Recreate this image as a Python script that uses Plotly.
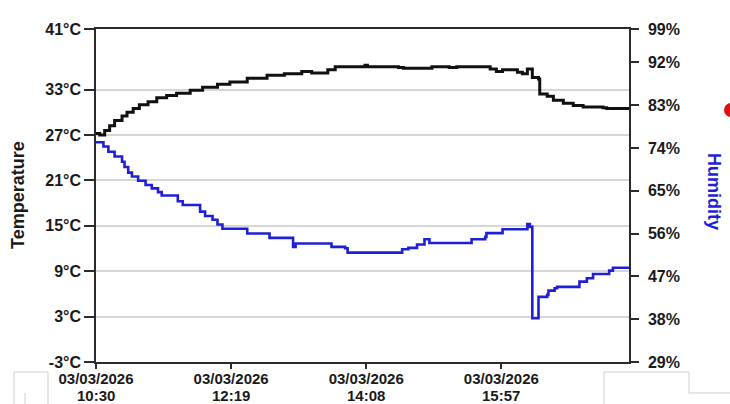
import plotly.graph_objects as go

DAY = "2026-03-03 "

# Temperature log (°C), step readings
temp_times = ["10:30", "10:33", "10:37", "10:41", "10:45", "10:51", "10:55", "11:00",
              "11:05", "11:12", "11:19", "11:27", "11:35", "11:46", "11:56", "12:08",
              "12:18", "12:32", "12:48", "13:02", "13:16", "13:24", "13:37", "13:43",
              "14:07", "14:09", "14:34", "14:38", "15:01", "15:15", "15:21", "15:48",
              "15:53", "15:58", "16:10", "16:14", "16:18", "16:22", "16:27", "16:28",
              "16:34", "16:39", "16:47", "16:55", "17:03", "17:19", "17:22", "17:40"]
temp_values = [27.2, 27.0, 27.6, 28.2, 28.9, 29.5, 30.0, 30.5,
               31.0, 31.4, 31.9, 32.2, 32.5, 32.9, 33.3, 33.7,
               34.0, 34.5, 34.9, 35.1, 35.4, 35.2, 35.6, 36.0,
               36.2, 36.0, 35.9, 35.8, 36.0, 35.9, 36.0, 35.7,
               35.4, 35.6, 35.3, 35.1, 35.7, 34.6, 34.4, 32.4,
               32.1, 31.6, 31.2, 30.9, 30.7, 30.6, 30.5, 30.5]

# Relative humidity log (%), step readings
hum_times = ["10:30", "10:36", "10:40", "10:45", "10:51", "10:53", "10:56", "10:59",
             "11:04", "11:10", "11:15", "11:20", "11:23", "11:36", "11:40", "11:54",
             "11:58", "12:04", "12:08", "12:12", "12:32", "12:50", "13:09", "13:11",
             "13:40", "13:51", "13:53", "14:37", "14:42", "14:49", "14:55", "14:59",
             "15:33", "15:44", "15:45", "15:58", "16:18", "16:20", "16:22", "16:27",
             "16:34", "16:35", "16:40", "16:42", "17:00", "17:06", "17:11", "17:24",
             "17:27", "17:40"]
hum_values = [75.2, 74.3, 73.2, 72.2, 71.1, 70.0, 68.8, 68.0,
              67.1, 66.2, 65.5, 64.7, 64.0, 62.8, 62.0, 60.6,
              59.7, 58.9, 57.9, 57.0, 56.0, 55.1, 53.2, 53.9,
              53.2, 52.9, 52.0, 52.7, 53.0, 53.7, 54.8, 54.0,
              54.8, 55.3, 56.1, 56.9, 58.0, 57.4, 38.2, 42.7,
              43.1, 44.0, 44.5, 44.8, 45.9, 46.6, 47.5, 48.2,
              48.8, 48.8]

x_tick_times = ["10:30", "12:19", "14:08", "15:57"]
x_tick_date = "03/03/2026"
temp_ticks = [-3, 3, 9, 15, 21, 27, 33, 41]
hum_ticks = [29, 38, 47, 56, 65, 74, 83, 92, 99]

FONT = "Liberation Sans"
AXIS = "#2b2b2b"
TEXT = "#1a1a1a"

fig = go.Figure()
fig.add_trace(go.Scatter(
    x=[DAY + t for t in temp_times], y=temp_values, mode="lines",
    line=dict(color="#111111", width=3, shape="hv"), yaxis="y", showlegend=False))
fig.add_trace(go.Scatter(
    x=[DAY + t for t in hum_times], y=hum_values, mode="lines",
    line=dict(color="#1f1fd6", width=2.6, shape="hv"), yaxis="y2", showlegend=False))

tick_font = dict(family=FONT, size=16, color=TEXT, weight="bold")
x_font = dict(family=FONT, size=15, color=TEXT, weight="bold")

fig.update_layout(
    width=730, height=404,
    margin=dict(l=96, r=101, t=29, b=42),
    paper_bgcolor="white", plot_bgcolor="white",
    xaxis=dict(
        type="date", range=[DAY + "10:30", DAY + "17:40"],
        tickvals=[DAY + t for t in x_tick_times],
        ticktext=[x_tick_date for _ in x_tick_times],
        ticks="outside", ticklen=5, tickwidth=1.5, tickcolor=AXIS,
        showline=True, linecolor=AXIS, linewidth=1.5, mirror=True,
        showgrid=False, zeroline=False, tickfont=x_font, ticklabelstandoff=-3,
        automargin=False,
    ),
    yaxis=dict(
        range=[-3, 41], tickvals=temp_ticks,
        ticktext=[f"{v}°C" for v in temp_ticks],
        ticks="outside", ticklen=10, tickwidth=1.5, tickcolor=AXIS,
        showline=True, linecolor=AXIS, linewidth=1.5,
        showgrid=True, gridcolor="#d6d6d6", gridwidth=1.5, zeroline=False,
        tickfont=tick_font, automargin=False,
    ),
    yaxis2=dict(
        range=[29, 99], tickvals=hum_ticks,
        ticktext=[f"{v}%" for v in hum_ticks],
        overlaying="y", side="right",
        ticks="outside", ticklen=8, tickwidth=1.5, tickcolor=AXIS,
        showline=True, linecolor=AXIS, linewidth=1.5,
        showgrid=False, zeroline=False, tickfont=tick_font, ticklabelstandoff=6,
        automargin=False,
    ),
)

# Second row of the time axis labels (clock time under each date)
for t in x_tick_times:
    fig.add_annotation(text=t, xref="x", yref="paper", x=DAY + t,
                       y=(362 - 395.6) / 333, showarrow=False,
                       xanchor="center", yanchor="middle",
                       font=x_font)

# Axis titles
fig.add_annotation(text="Temperature", xref="paper", yref="paper",
                   x=(18 - 96) / 533, y=(362 - 195) / 333, showarrow=False,
                   textangle=-90, xanchor="center", yanchor="middle",
                   font=dict(family=FONT, size=18, color=TEXT, weight="bold"))
fig.add_annotation(text="Humidity", xref="paper", yref="paper",
                   x=(714 - 96) / 533, y=(362 - 191) / 333, showarrow=False,
                   textangle=90, xanchor="center", yanchor="middle",
                   font=dict(family=FONT, size=18, color="#1f1fd6", weight="bold"))

# Status indicator dot
fig.add_shape(type="circle", xref="paper", yref="paper",
              x0=(724 - 96) / 533, x1=(738 - 96) / 533,
              y0=(362 - 117) / 333, y1=(362 - 103) / 333,
              fillcolor="#e01010", line=dict(width=0))

# Faint window frame edges along the bottom
frame = "#cfcfcf"
for x0, y0, x1, y1 in [(14, 372, 48, 372), (14, 372, 14, 404), (48, 372, 48, 404),
                       (25, 393, 25, 404), (604, 372, 689, 372), (604, 372, 604, 404),
                       (689, 372, 689, 393), (689, 393, 730, 393)]:
    fig.add_shape(type="line", xref="paper", yref="paper",
                  x0=(x0 - 96) / 533, x1=(x1 - 96) / 533,
                  y0=(362 - y0) / 333, y1=(362 - y1) / 333,
                  line=dict(color=frame, width=1))

fig.write_html("out.html")
